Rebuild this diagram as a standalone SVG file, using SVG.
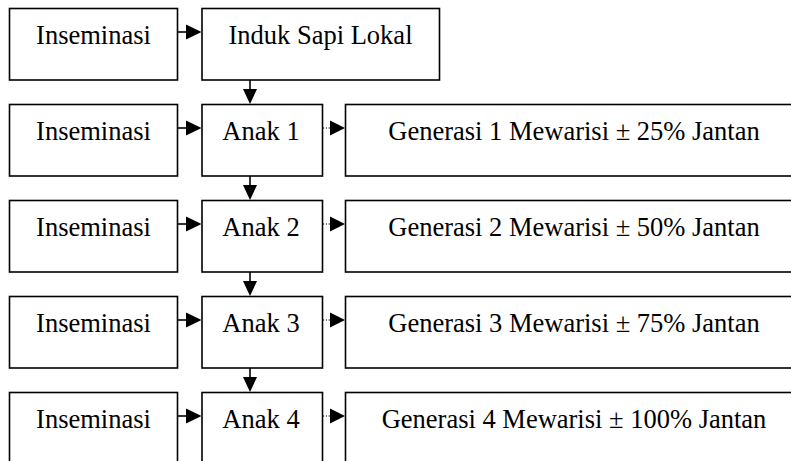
<svg xmlns="http://www.w3.org/2000/svg" width="791" height="461" viewBox="0 0 791 461">
<style>
  .box { fill: #ffffff; stroke: #000000; stroke-width: 1.6; }
  .lbl { font-family: "Liberation Serif", "Times New Roman", serif; font-size: 26.5px; fill: #000000; text-anchor: middle; }
  .ln { stroke: #000000; stroke-width: 1.6; fill: none; }
  .dot { stroke: #000000; stroke-width: 1; stroke-dasharray: 1.2 1.6; fill: none; }
  .head { fill: #000000; stroke: none; }
</style>
<rect x="0" y="0" width="791" height="461" fill="#ffffff"/>

<!-- Row 1 -->
<g id="ins1"><rect class="box" x="9.5" y="8.5" width="168" height="71.5"/><text class="lbl" x="93.5" y="44">Inseminasi</text></g>
<g id="induk"><rect class="box" x="202" y="8.5" width="237.5" height="71.5"/><text class="lbl" x="320.5" y="44">Induk Sapi Lokal</text></g>

<!-- Row 2 -->
<g id="ins2"><rect class="box" x="9.5" y="104.5" width="168" height="71.5"/><text class="lbl" x="93.5" y="140">Inseminasi</text></g>
<g id="anak1"><rect class="box" x="202" y="104.5" width="120.5" height="71.5"/><text class="lbl" x="261" y="140">Anak 1</text></g>
<g id="gen1"><rect class="box" x="345.5" y="104.5" width="456" height="71.5"/><text class="lbl" x="574" y="140">Generasi 1 Mewarisi ± 25% Jantan</text></g>

<!-- Row 3 -->
<g id="ins3"><rect class="box" x="9.5" y="200.5" width="168" height="71.5"/><text class="lbl" x="93.5" y="236">Inseminasi</text></g>
<g id="anak2"><rect class="box" x="202" y="200.5" width="120.5" height="71.5"/><text class="lbl" x="261" y="236">Anak 2</text></g>
<g id="gen2"><rect class="box" x="345.5" y="200.5" width="456" height="71.5"/><text class="lbl" x="574" y="236">Generasi 2 Mewarisi ± 50% Jantan</text></g>

<!-- Row 4 -->
<g id="ins4"><rect class="box" x="9.5" y="296.5" width="168" height="71.5"/><text class="lbl" x="93.5" y="332">Inseminasi</text></g>
<g id="anak3"><rect class="box" x="202" y="296.5" width="120.5" height="71.5"/><text class="lbl" x="261" y="332">Anak 3</text></g>
<g id="gen3"><rect class="box" x="345.5" y="296.5" width="456" height="71.5"/><text class="lbl" x="574" y="332">Generasi 3 Mewarisi ± 75% Jantan</text></g>

<!-- Row 5 -->
<g id="ins5"><rect class="box" x="9.5" y="392.5" width="168" height="80"/><text class="lbl" x="93.5" y="428">Inseminasi</text></g>
<g id="anak4"><rect class="box" x="202" y="392.5" width="120.5" height="80"/><text class="lbl" x="261" y="428">Anak 4</text></g>
<g id="gen4"><rect class="box" x="345.5" y="392.5" width="456" height="80"/><text class="lbl" x="574" y="428">Generasi 4 Mewarisi ± 100% Jantan</text></g>

<g id="connectors">
  <!-- Inseminasi -> column 2 -->
  <line class="ln" x1="177.5" y1="32" x2="187" y2="32"/><polygon class="head" points="186,24.5 201.5,32 186,39.5"/>
  <line class="ln" x1="177.5" y1="128" x2="187" y2="128"/><polygon class="head" points="186,120.5 201.5,128 186,135.5"/>
  <line class="ln" x1="177.5" y1="224" x2="187" y2="224"/><polygon class="head" points="186,216.5 201.5,224 186,231.5"/>
  <line class="ln" x1="177.5" y1="320" x2="187" y2="320"/><polygon class="head" points="186,312.5 201.5,320 186,327.5"/>
  <line class="ln" x1="177.5" y1="416" x2="187" y2="416"/><polygon class="head" points="186,408.5 201.5,416 186,423.5"/>

  <!-- Anak -> Generasi (dotted) -->
  <line class="dot" x1="323" y1="128" x2="331" y2="128"/><polygon class="head" points="330,120.5 345,128 330,135.5"/>
  <line class="dot" x1="323" y1="224" x2="331" y2="224"/><polygon class="head" points="330,216.5 345,224 330,231.5"/>
  <line class="dot" x1="323" y1="320" x2="331" y2="320"/><polygon class="head" points="330,312.5 345,320 330,327.5"/>
  <line class="dot" x1="323" y1="416" x2="331" y2="416"/><polygon class="head" points="330,408.5 345,416 330,423.5"/>

  <!-- vertical -->
  <line class="ln" x1="250" y1="80" x2="250" y2="90"/><polygon class="head" points="243,89 257,89 250,104"/>
  <line class="ln" x1="250" y1="176" x2="250" y2="186"/><polygon class="head" points="243,185 257,185 250,200"/>
  <line class="ln" x1="250" y1="272" x2="250" y2="282"/><polygon class="head" points="243,281 257,281 250,296"/>
  <line class="ln" x1="250" y1="368" x2="250" y2="378"/><polygon class="head" points="243,377 257,377 250,392"/>
</g>
</svg>
